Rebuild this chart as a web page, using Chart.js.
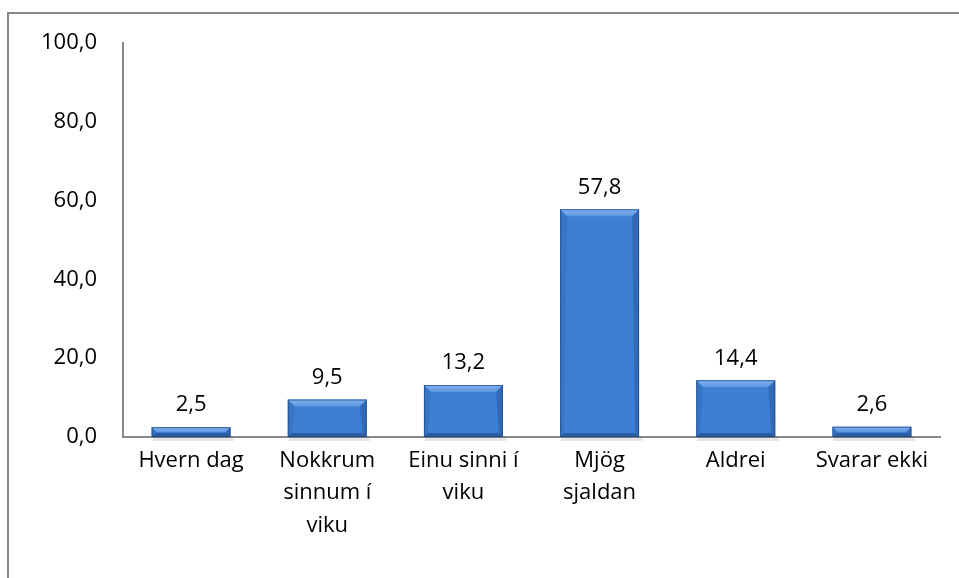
<!DOCTYPE html>
<html>
<head>
<meta charset="utf-8">
<script src="https://cdn.jsdelivr.net/npm/chart.js@4/dist/chart.umd.min.js"></script>
<style>
  html, body { margin: 0; padding: 0; background: #fff; }
  .frame { position: absolute; left: 7px; top: 12px; width: 960px; height: 580px;
           border-left: 2px solid #878787; border-top: 2px solid #878787; }
  .wrap { position: absolute; left: 0; top: 0; width: 959px; height: 578px; }
</style>
</head>
<body>
<div class="frame"></div>
<div class="wrap"><canvas id="chart" width="959" height="578"></canvas></div>
<script>
const categories = [
    ['Hvern dag'],
    ['Nokkrum', 'sinnum í', 'viku'],
    ['Einu sinni í', 'viku'],
    ['Mjög', 'sjaldan'],
    ['Aldrei'],
    ['Svarar ekki']
];
const values = [2.5, 9.5, 13.2, 57.8, 14.4, 2.6];
const yTicks = [0, 20, 40, 60, 80, 100];

const fmt = v => v.toFixed(1).replace('.', ',');
const FONT = '"Open Sans", sans-serif';
const FSIZE = 22;

// vertical gradient for the bar body, a bit darker towards the base
const barFill = (ctx) => {
    const el = ctx.element;
    if (!el) return '#3d7fd3';
    const { y, base } = el.getProps(['y', 'base'], true);
    if (!isFinite(y) || !isFinite(base) || y === base) return '#3d7fd3';
    const g = ctx.chart.ctx.createLinearGradient(0, y, 0, base);
    g.addColorStop(0, '#4787da');
    g.addColorStop(0.5, '#3e7bcc');
    g.addColorStop(1, '#3467b3');
    return g;
};

// bevel edges, outline and soft shadow on each bar
const bevelPlugin = {
    id: 'bevel',
    beforeDatasetsDraw(chart) {
        const ctx = chart.ctx;
        chart.getDatasetMeta(0).data.forEach(bar => {
            const { x, base, width } = bar.getProps(['x', 'base', 'width'], true);
            ctx.save();
            ctx.fillStyle = 'rgba(0,0,0,0.10)';
            ctx.fillRect(x - width / 2 + 1, base, width + 2, 4);
            ctx.restore();
        });
    },
    afterDatasetsDraw(chart) {
        const ctx = chart.ctx;
        chart.getDatasetMeta(0).data.forEach(bar => {
            const { x, y, base, width } = bar.getProps(['x', 'y', 'base', 'width'], true);
            const l = x - width / 2, r = x + width / 2;
            const h = base - y;
            const b = Math.min(7, h / 2);
            const s = Math.min(4, h / 2);
            ctx.save();
            // top bevel
            const g = ctx.createLinearGradient(0, y, 0, y + b);
            g.addColorStop(0, '#84b4f0');
            g.addColorStop(1, '#5c96e0');
            ctx.fillStyle = g;
            ctx.beginPath();
            ctx.moveTo(l, y); ctx.lineTo(r, y); ctx.lineTo(r - b, y + b); ctx.lineTo(l + b, y + b);
            ctx.closePath(); ctx.fill();
            // left bevel
            ctx.fillStyle = 'rgba(25,70,140,0.18)';
            ctx.beginPath();
            ctx.moveTo(l, y); ctx.lineTo(l + b, y + b); ctx.lineTo(l + s, base - s); ctx.lineTo(l, base);
            ctx.closePath(); ctx.fill();
            // right bevel
            ctx.fillStyle = 'rgba(20,55,110,0.28)';
            ctx.beginPath();
            ctx.moveTo(r, y); ctx.lineTo(r - b, y + b); ctx.lineTo(r - s, base - s); ctx.lineTo(r, base);
            ctx.closePath(); ctx.fill();
            // bottom bevel
            ctx.fillStyle = 'rgba(25,60,115,0.5)';
            ctx.beginPath();
            ctx.moveTo(l, base); ctx.lineTo(l + s, base - s); ctx.lineTo(r - s, base - s); ctx.lineTo(r, base);
            ctx.closePath(); ctx.fill();
            // thin outline
            ctx.strokeStyle = 'rgba(30,70,130,0.75)';
            ctx.lineWidth = 1;
            ctx.strokeRect(l + 0.5, y + 0.5, width - 1, h - 1);
            ctx.restore();
        });
    }
};

// value labels above the bars
const valueLabels = {
    id: 'valueLabels',
    afterDatasetsDraw(chart) {
        const ctx = chart.ctx;
        const ds = chart.data.datasets[0];
        ctx.save();
        ctx.font = FSIZE + 'px ' + FONT;
        ctx.fillStyle = '#000';
        ctx.textAlign = 'center';
        ctx.textBaseline = 'middle';
        chart.getDatasetMeta(0).data.forEach((bar, i) => {
            ctx.fillText(fmt(ds.data[i]), bar.x, bar.y - 22);
        });
        ctx.restore();
    }
};

new Chart(document.getElementById('chart'), {
    type: 'bar',
    data: {
        labels: categories,
        datasets: [{
            data: values,
            backgroundColor: barFill,
            borderWidth: 0,
            barPercentage: 0.58,
            categoryPercentage: 1
        }]
    },
    options: {
        responsive: false,
        animation: false,
        layout: { padding: { top: 43, right: 19, left: 0, bottom: 0 } },
        plugins: { legend: { display: false }, tooltip: { enabled: false } },
        scales: {
            x: {
                grid: { display: false, drawTicks: false },
                border: { color: '#898989', width: 2 },
                ticks: {
                    color: '#000',
                    font: { family: FONT, size: FSIZE, lineHeight: 1.48 },
                    padding: 7,
                    maxRotation: 0, autoSkip: false
                },
                afterFit: s => { s.height = 578 - 437; }
            },
            y: {
                min: 0, max: 100,
                afterBuildTicks: s => { s.ticks = yTicks.map(v => ({ value: v })); },
                grid: { display: false, drawTicks: false },
                border: { color: '#898989', width: 2 },
                ticks: {
                    color: '#000',
                    font: { family: FONT, size: FSIZE },
                    padding: 26,
                    callback: v => fmt(v)
                },
                afterFit: s => { s.width = 123; }
            }
        }
    },
    plugins: [bevelPlugin, valueLabels]
});
</script>
</body>
</html>
